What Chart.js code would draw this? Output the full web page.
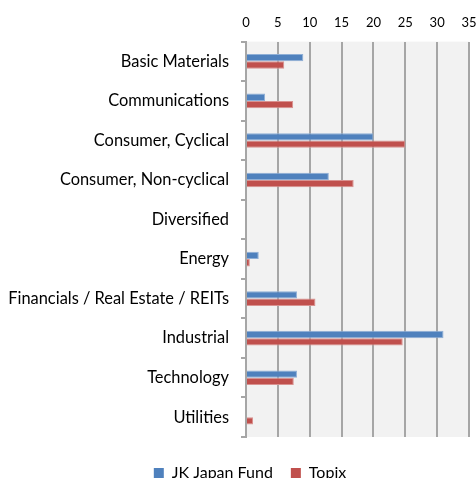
<!DOCTYPE html>
<html>
<head>
<meta charset="utf-8">
<title>JK Japan Fund vs Topix</title>
<script src="https://cdn.jsdelivr.net/npm/chart.js@4/dist/chart.umd.min.js"></script>
<style>
  html, body { margin: 0; padding: 0; background: #fff; overflow: hidden; }
  #wrap { position: relative; width: 476px; height: 491px; }
</style>
</head>
<body>
<div id="wrap"><canvas id="chart"></canvas></div>
<script>
  // sector weights (%)
  var sectors = [
    "Basic Materials",
    "Communications",
    "Consumer, Cyclical",
    "Consumer, Non-cyclical",
    "Diversified",
    "Energy",
    "Financials / Real Estate / REITs",
    "Industrial",
    "Technology",
    "Utilities"
  ];
  var fundWeights  = [9, 3, 20, 13, 0, 2, 8, 31, 8, 0];
  var topixWeights = [6, 7.4, 25, 16.9, 0, 0.6, 10.9, 24.6, 7.5, 1.1];
  var xTicks = [0, 5, 10, 15, 20, 25, 30, 35];

  var FONT = "Lato, 'Open Sans', sans-serif";
  var GRID = "#A6A6A6";

  // light grey plot area
  var plotBg = {
    id: "plotBg",
    beforeDraw: function (chart) {
      var a = chart.chartArea, ctx = chart.ctx;
      ctx.save();
      ctx.fillStyle = "#F2F2F2";
      ctx.fillRect(a.left, a.top, a.right - a.left, a.bottom - a.top);
      ctx.restore();
    }
  };

  // legend sits a little right of the canvas centre
  var legendNudge = {
    id: "legendNudge",
    afterLayout: function (chart) {
      if (!chart.legend) return;
      chart.legend.left += 12;
      chart.legend.right += 12;
    }
  };

  new Chart(document.getElementById("chart").getContext("2d"), {
    type: "bar",
    data: {
      labels: sectors,
      datasets: [
        {
          label: "JK Japan Fund", data: fundWeights,
          backgroundColor: "#4F81BD", borderColor: "#8FAFD6", borderWidth: 1
        },
        {
          label: "Topix", data: topixWeights,
          backgroundColor: "#C0504D", borderColor: "#D99290", borderWidth: 1
        }
      ]
    },
    options: {
      indexAxis: "y",
      responsive: true,
      maintainAspectRatio: false,
      animation: false,
      categoryPercentage: 0.37,
      barPercentage: 1,
      layout: { padding: { top: 4, right: 0, left: 0, bottom: 0 } },
      plugins: {
        legend: {
          position: "bottom",
          labels: {
            boxWidth: 10, boxHeight: 10, padding: 18,
            color: "#000", font: { family: FONT, size: 16 },
            generateLabels: function (chart) {
              return chart.data.datasets.map(function (ds, i) {
                return {
                  text: ds.label, fillStyle: ds.backgroundColor,
                  strokeStyle: ds.backgroundColor, lineWidth: 0,
                  fontColor: "#000", datasetIndex: i, hidden: false
                };
              });
            }
          }
        },
        tooltip: { enabled: false }
      },
      scales: {
        x: {
          position: "top",
          min: xTicks[0],
          max: xTicks[xTicks.length - 1],
          afterBuildTicks: function (s) {
            s.ticks = xTicks.map(function (v) { return { value: v }; });
          },
          afterFit: function (s) { s.paddingLeft = 0; s.paddingRight = 7; },
          grid: { color: GRID, lineWidth: 2, drawTicks: false },
          border: { display: false },
          ticks: { color: "#000", padding: 11, font: { family: FONT, size: 13 } }
        },
        // empty spacer between plot and legend
        x2: {
          type: "linear",
          position: "bottom",
          grid: { display: false },
          border: { display: false },
          ticks: { display: false },
          afterFit: function (s) { s.height = 10; s.paddingLeft = 0; s.paddingRight = 0; }
        },
        y: {
          afterFit: function (s) { s.width = 246; },
          grid: { offset: true, drawOnChartArea: false, tickLength: 5, color: GRID, lineWidth: 2 },
          border: { color: GRID, width: 2 },
          ticks: { color: "#000", padding: 12, font: { family: FONT, size: 16.4 } }
        }
      }
    },
    plugins: [plotBg, legendNudge]
  });
</script>
</body>
</html>
